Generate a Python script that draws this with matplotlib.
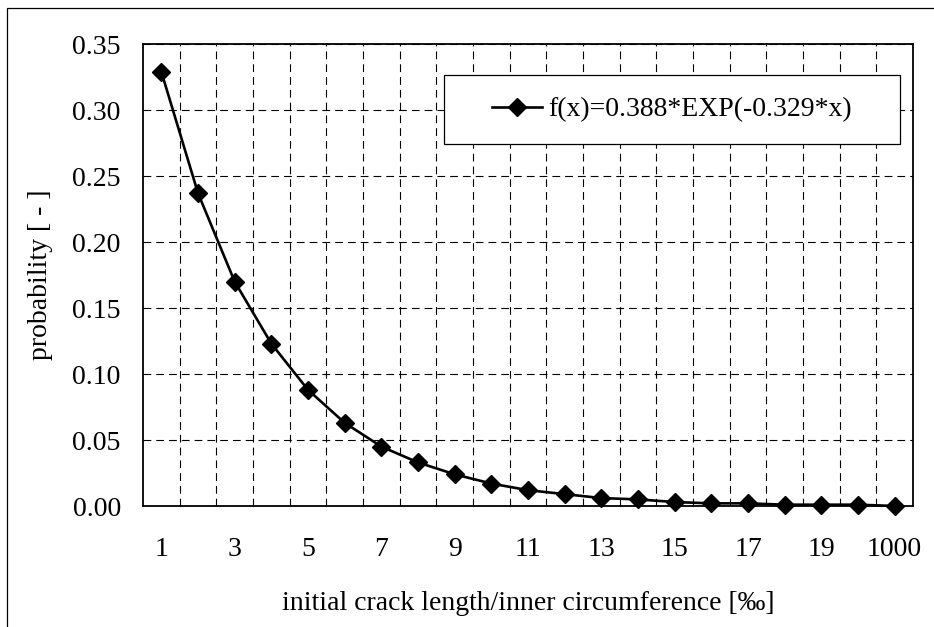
import numpy as np
import matplotlib
matplotlib.use('Agg')
import matplotlib.pyplot as plt
from matplotlib.patches import Rectangle
from matplotlib.ticker import FormatStrFormatter, FixedLocator

plt.rcParams['font.family'] = ['Liberation Serif', 'DejaVu Serif']
plt.rcParams['font.size'] = 20

# categories on the x axis (ratio in per mille)
categories = ['1', '2', '3', '4', '5', '6', '7', '8', '9', '10', '11', '12',
              '13', '14', '15', '16', '17', '18', '19', '20', '1000']
# probability
probability = [0.329, 0.237, 0.170, 0.123, 0.088, 0.063, 0.045, 0.033, 0.024,
               0.017, 0.012, 0.009, 0.006, 0.005, 0.003, 0.002, 0.002, 0.001,
               0.001, 0.001, 0.000]
series_label = 'f(x)=0.388*EXP(-0.329*x)'
y_ticks = [0.00, 0.05, 0.10, 0.15, 0.20, 0.25, 0.30, 0.35]

fig = plt.figure(figsize=(9.34, 6.27), dpi=100)
# outer chart frame (right and bottom edges run past the picture)
fig.patches.append(Rectangle((7 / 934, -0.2), 1.2, 1.2 - 8 / 627,
                             transform=fig.transFigure, fill=False,
                             edgecolor='black', linewidth=0.9))

ax = fig.add_axes([143 / 934, 121 / 627, 770 / 934, 462 / 627])
x = np.arange(len(categories))
line, = ax.plot(x, probability, color='black', linewidth=1.9, marker='D',
                markersize=9, markerfacecolor='black', markeredgecolor='black',
                zorder=3, clip_on=False)

ax.set_xlim(-0.5, len(categories) - 0.5)
ax.set_ylim(0, 0.35)
ax.set_xticks(x[::2])
ax.set_xticklabels(categories[::2])
ax.xaxis.set_minor_locator(FixedLocator(np.arange(0.5, len(categories) - 1, 1.0)))
ax.set_yticks(y_ticks)
ax.yaxis.set_major_formatter(FormatStrFormatter('%.2f'))
ax.tick_params(axis='x', which='both', length=0, pad=22)
ax.tick_params(axis='y', which='both', length=0, pad=16)

dash = (0, (7, 4.5))
ax.grid(False)
ax.xaxis.grid(True, which='minor', color='black', linestyle=dash, linewidth=0.8)
ax.yaxis.grid(True, which='major', color='black', linestyle=dash, linewidth=0.8)
ax.set_axisbelow(True)
for s in ax.spines.values():
    s.set_linewidth(1.3)

ax.set_ylabel('probability [ - ]', va='center')
ax.yaxis.set_label_coords((40 - 143) / 770, 0.5)
ax.set_xlabel('initial crack length/inner circumference [‰]', va='center')
ax.xaxis.set_label_coords(0.5, (506 - 603) / 462)

# legend box
bx0, by0, bw, bh = (444 - 143) / 770, (506 - 144) / 462, 456 / 770, 69 / 462
ax.add_patch(Rectangle((bx0, by0), bw, bh, transform=ax.transAxes,
                       facecolor='white', edgecolor='black', linewidth=0.9,
                       zorder=4))
leg = ax.legend([line], [series_label], loc='center',
                bbox_to_anchor=(bx0 + bw / 2, by0 + bh / 2), frameon=False,
                handlelength=1.8, handletextpad=0.25, borderpad=0)
leg.set_zorder(5)

fig.savefig('out.png', dpi=100)
